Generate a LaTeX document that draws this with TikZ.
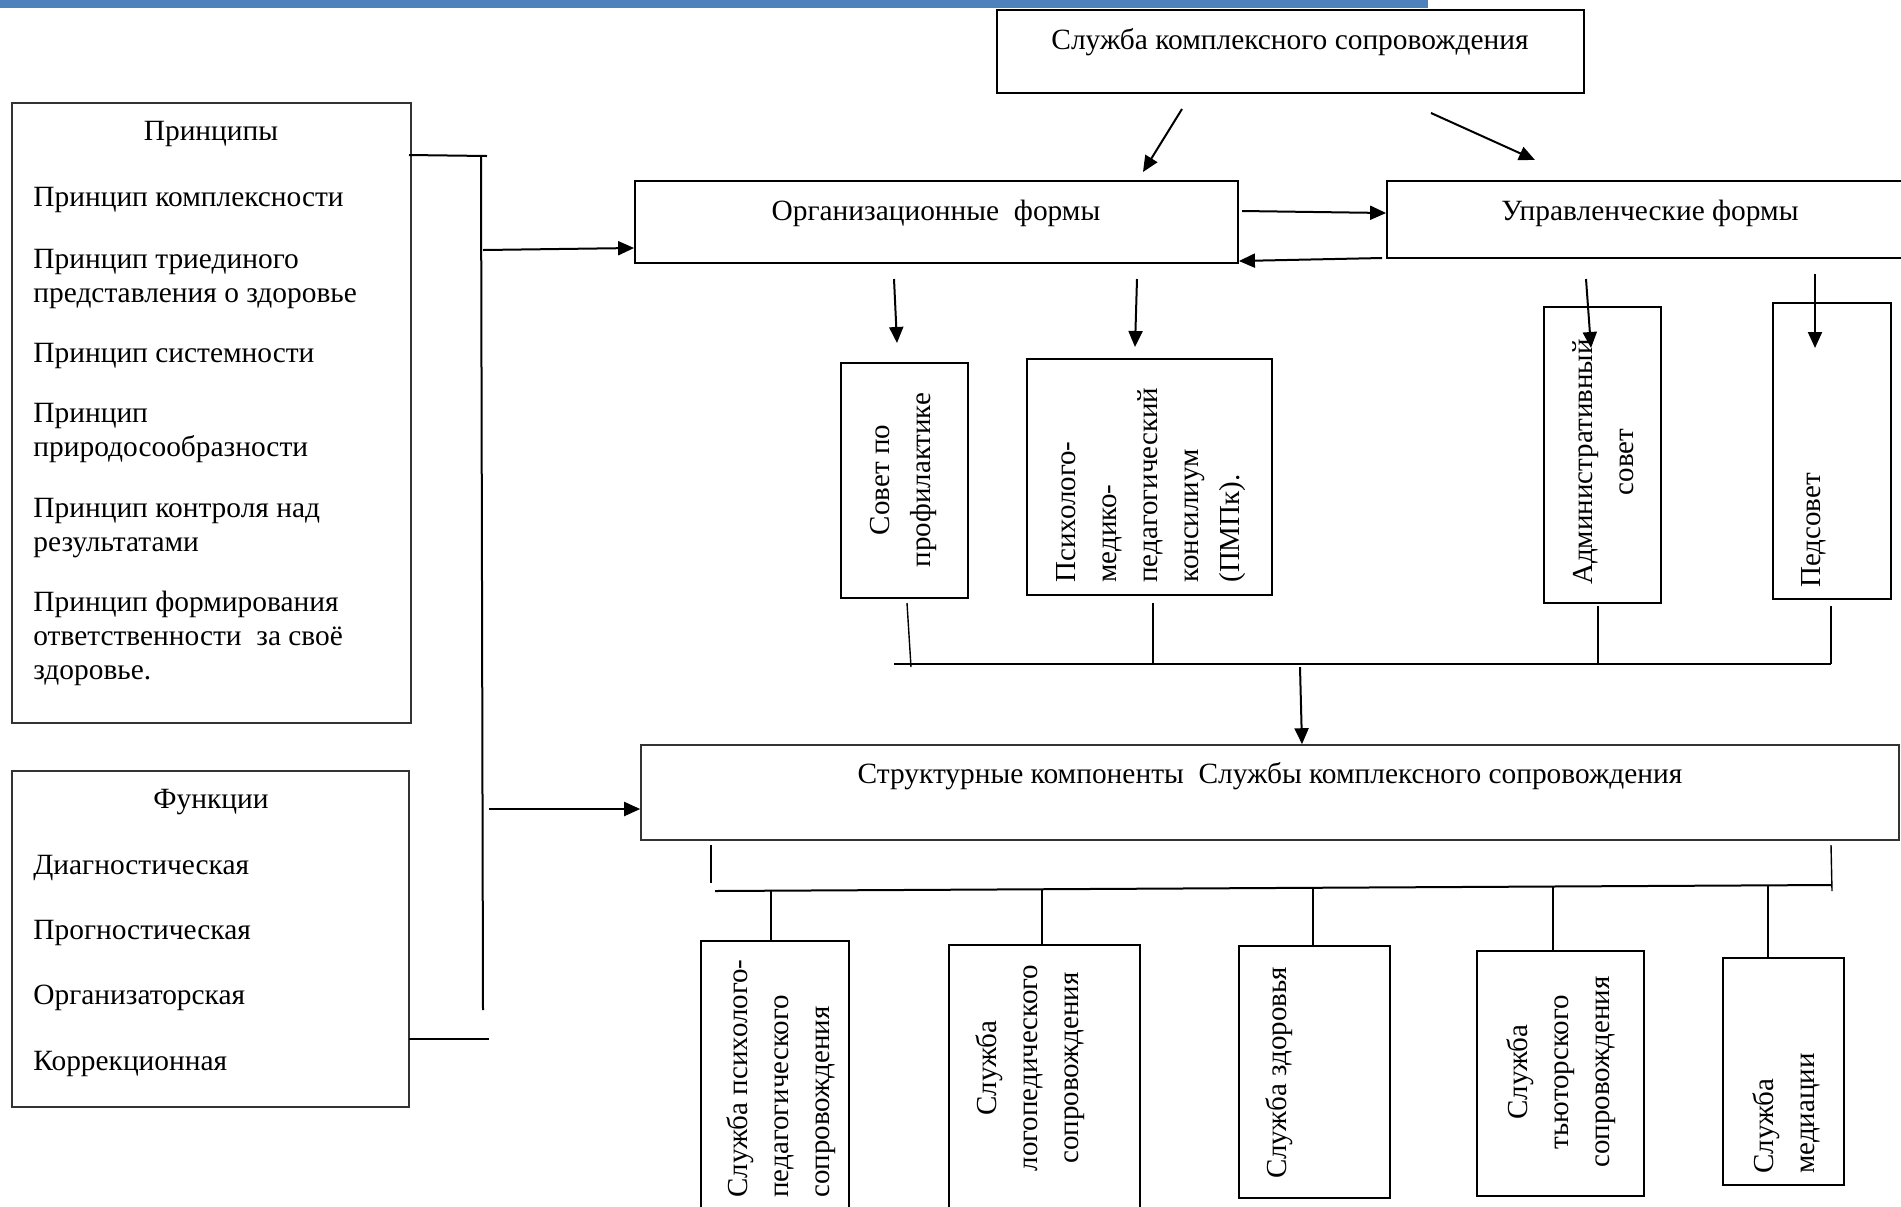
\documentclass[tikz,border=0pt]{standalone}
\usepackage{fontspec}
\setmainfont{Liberation Serif}
\usetikzlibrary{arrows.meta,fit}
\definecolor{barblue}{RGB}{79,129,189}
\begin{document}
\begin{tikzpicture}[x=0.5pt,y=-0.5pt,
  box/.style={draw, line width=0.9pt, inner sep=0pt},
  thinbox/.style={draw=black!80, line width=0.6pt, inner sep=0pt},
  txt/.style={inner sep=0pt, font=\fontsize{14.7pt}{17pt}\selectfont},
  vtxt/.style={inner sep=0pt, rotate=90, font=\fontsize{14.5pt}{20.5pt}\selectfont},
  arr/.style={-{Triangle[length=8pt,width=7pt]}, line width=1pt},
  ln/.style={line width=1pt},
  tln/.style={line width=0.7pt},
]
\useasboundingbox (0,0) rectangle (1901,1206);
\fill[barblue] (0,0) rectangle (1428,8);

% ---------- left panel ----------
\node[thinbox, fit={(12,103)(411,723)}] (princ) {};
\node[txt] (princT) at (211,134) {Принципы};
\node[txt, anchor=west] (p1) at (33,200) {Принцип комплексности};
\node[txt, anchor=west, align=left] (p2) at (33,279) {Принцип триединого\\представления о здоровье};
\node[txt, anchor=west] (p3) at (33,356) {Принцип системности};
\node[txt, anchor=west, align=left] (p4) at (33,433) {Принцип\\природосообразности};
\node[txt, anchor=west, align=left] (p5) at (33,528) {Принцип контроля над\\результатами};
\node[txt, anchor=west, align=left] (p6) at (33,638) {Принцип формирования\\ответственности\ \ за своё\\здоровье.};

\node[thinbox, fit={(12,771)(409,1107)}] (func) {};
\node[txt] (funcT) at (211,802) {Функции};
\node[txt, anchor=west] (f1) at (33,868) {Диагностическая};
\node[txt, anchor=west] (f2) at (33,933) {Прогностическая};
\node[txt, anchor=west] (f3) at (33,998) {Организаторская};
\node[txt, anchor=west] (f4) at (33,1064) {Коррекционная};

% left connector
\coordinate (lt1) at (409,155);
\coordinate (lt2) at (487,156);
\coordinate (lv1) at (481,156);
\coordinate (lv2) at (483,1010);
\coordinate (lb1) at (409,1039);
\coordinate (lb2) at (489,1039);
\draw[ln] (lt1) -- (lt2);
\draw[ln] (lv1) -- (lv2);
\draw[ln] (lb1) -- (lb2);

% ---------- top ----------
\node[box, line width=1.1pt, fit={(997,10)(1584,93)}] (top) {};
\node[txt] (topT) at (1290,42) {Служба комплексного сопровождения};

\node[box, fit={(635,181)(1238,263)}] (org) {};
\node[txt] (orgT) at (936,213) {Организационные\ \ формы};
\node[box, fit={(1387,181)(1912,258)}] (upr) {};
\node[txt] (uprT) at (1650,213) {Управленческие формы};

\coordinate (a1s) at (1182,109);
\coordinate (a2s) at (1431,113);
\draw[arr] (a1s) -- (1143,172);
\draw[arr] (a2s) -- (1535,160);
\draw[arr] (1242,211) -- (upr.west |- 0,213);
\draw[arr] (1382,258) -- (org.east |- 0,261);
\draw[arr] (483,250) -- (org.west |- 0,248);
\coordinate (ls) at (489,809);

% ---------- forms children ----------
\node[box, fit={(841,363)(968,598)}] (sov) {};
\node[vtxt, align=center] (sovT) at (903,480) {Совет по\\профилактике};
\node[box, fit={(1027,359)(1272,595)}] (pmpk) {};
\node[vtxt, align=left, anchor=west] (pmpkT) at (1151,583) {Психолого-\\медико-\\педагогический\\консилиум\\(ПМПк).};
\node[box, line width=0.8pt, fit={(1544,307)(1661,603)}] (adm) {};
\node[vtxt, align=center] (admT) at (1603,462) {Административный\\совет};
\node[box, line width=0.8pt, fit={(1773,303)(1891,599)}] (ped) {};
\node[vtxt, anchor=west] (pedT) at (1814,588) {Педсовет};

\draw[arr] (894,279) -- (897,343);
\draw[arr] (1137,279) -- (1135,347);
\draw[arr] (1586,279) -- (1591,348);
\draw[arr] (1815,274) -- (1815,348);

% bus 1
\coordinate (b1l) at (894,664);
\coordinate (b1r) at (1831,664);
\draw[ln] (b1l) -- (b1r);
\draw[tln] (907,603) -- (911,667);
\draw[tln] (1153,603) -- (1153,664);
\draw[tln] (1598,606) -- (1598,664);
\draw[tln] (1831,606) -- (b1r);

% ---------- structural ----------
\node[thinbox, line width=0.8pt, fit={(641,745)(1899,840)}] (str) {};
\node[txt] (strT) at (1270,776) {Структурные компоненты\ \ Службы комплексного сопровождения};
\draw[arr] (1300,667) -- (str.north -| 1302,0);
\draw[arr] (ls) -- (str.west |- 0,809);

% bus 2
\coordinate (b2l) at (715,891);
\coordinate (b2r) at (1831,885);
\draw[tln] (711,845) -- (711,883);
\draw[tln] (1831,845) -- (1832,891);
\draw[ln] (b2l) -- (b2r);

% bottom boxes
\node[box, fit={(701,941)(849,1240)}] (s1) {};
\node[vtxt, align=left, anchor=west] (s1T) at (781,1198) {Служба психолого-\\педагогического\\сопровождения};
\node[box, fit={(949,945)(1140,1240)}] (s2) {};
\node[vtxt, align=center] (s2T) at (1030,1068) {Служба\\логопедического\\сопровождения};
\node[box, fit={(1239,946)(1390,1198)}] (s3) {};
\node[vtxt] (s3T) at (1279,1073) {Служба здоровья};
\node[box, fit={(1477,951)(1644,1196)}] (s4) {};
\node[vtxt, align=center] (s4T) at (1561,1072) {Служба\\тьюторского\\сопровождения};
\node[box, fit={(1723,958)(1844,1185)}] (s5) {};
\node[vtxt, align=left, anchor=west] (s5T) at (1786,1174) {Служба\\медиации};

\draw[tln] (771,891) -- (s1.north -| 771,0);
\draw[tln] (1042,890) -- (s2.north -| 1042,0);
\draw[tln] (1313,889) -- (s3.north -| 1313,0);
\draw[tln] (1553,886) -- (s4.north -| 1553,0);
\draw[tln] (1768,886) -- (s5.north -| 1768,0);
\end{tikzpicture}
\end{document}
